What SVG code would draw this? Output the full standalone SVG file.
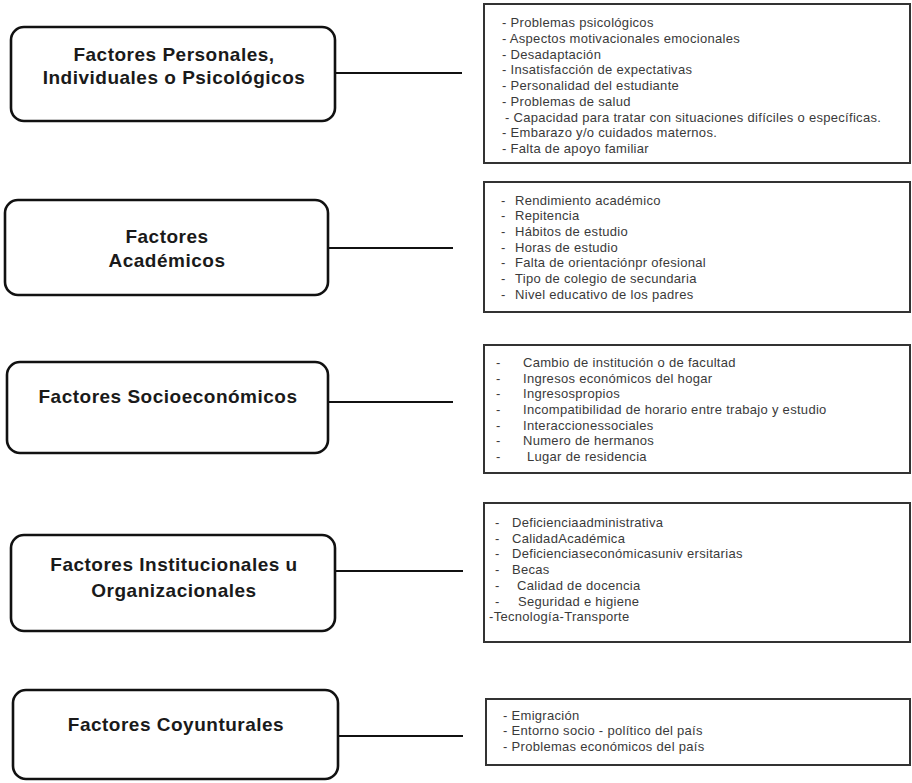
<svg xmlns="http://www.w3.org/2000/svg" width="912" height="783" viewBox="0 0 912 783">
<style>
.nb{fill:#fff;stroke:#111;stroke-width:2.6}
.lb{font-family:"Liberation Sans",Arial,sans-serif;font-weight:bold;font-size:19px;fill:#1a1a1a;text-anchor:middle;letter-spacing:0.5px}
.rb{fill:#fff;stroke:#333;stroke-width:2}
.it{font-family:"Liberation Sans",Arial,sans-serif;font-size:13px;fill:#3a3a3a;letter-spacing:0.3px}
.cn{stroke:#111;stroke-width:2;fill:none}
</style>
<rect width="912" height="783" fill="#fff"/>
<g id="connectors">
<line class="cn" x1="335" y1="73" x2="462" y2="73"/>
<line class="cn" x1="328" y1="248" x2="453" y2="248"/>
<line class="cn" x1="328" y1="402" x2="453" y2="402"/>
<line class="cn" x1="335" y1="571" x2="463" y2="571"/>
<line class="cn" x1="338" y1="736" x2="463" y2="736"/>
</g>
<g id="n-personales">
<rect class="nb" x="11" y="27" width="324" height="94" rx="13"/>
<text class="lb" x="174" y="61">Factores Personales,</text>
<text class="lb" x="174" y="84">Individuales o Psicológicos</text>
</g>
<g id="n-academicos">
<rect class="nb" x="5" y="200" width="323" height="95" rx="13"/>
<text class="lb" x="167" y="243">Factores</text>
<text class="lb" x="167" y="267">Académicos</text>
</g>
<g id="n-socioeconomicos">
<rect class="nb" x="7" y="362" width="321" height="91" rx="13"/>
<text class="lb" x="168" y="403">Factores Socioeconómicos</text>
</g>
<g id="n-institucionales">
<rect class="nb" x="11" y="535" width="324" height="96" rx="13"/>
<text class="lb" x="174" y="571">Factores Institucionales u</text>
<text class="lb" x="174" y="597">Organizacionales</text>
</g>
<g id="n-coyunturales">
<rect class="nb" x="13" y="690" width="325" height="89" rx="13"/>
<text class="lb" x="176" y="731">Factores Coyunturales</text>
</g>
<g id="l-personales">
<rect class="rb" x="484" y="4" width="426" height="159"/>
<g class="it">
<text x="502" y="27">- Problemas psicológicos</text>
<text x="502" y="42.8">- Aspectos motivacionales emocionales</text>
<text x="502" y="58.5">- Desadaptación</text>
<text x="502" y="74.3">- Insatisfacción de expectativas</text>
<text x="502" y="90">- Personalidad del estudiante</text>
<text x="502" y="105.8">- Problemas de salud</text>
<text x="505" y="121.5">- Capacidad para tratar con situaciones difíciles o específicas.</text>
<text x="502" y="137.3">- Embarazo y/o cuidados maternos.</text>
<text x="502" y="153">- Falta de apoyo familiar</text>
</g>
</g>
<g id="l-academicos">
<rect class="rb" x="484" y="182" width="426" height="130"/>
<g class="it">
<text x="501" y="204.5">-</text><text x="515" y="204.5">Rendimiento académico</text>
<text x="501" y="220">-</text><text x="515" y="220">Repitencia</text>
<text x="501" y="236">-</text><text x="515" y="236">Hábitos de estudio</text>
<text x="501" y="251.5">-</text><text x="515" y="251.5">Horas de estudio</text>
<text x="501" y="267">-</text><text x="515" y="267">Falta de orientaciónpr ofesional</text>
<text x="501" y="283">-</text><text x="515" y="283">Tipo de colegio de secundaria</text>
<text x="501" y="298.5">-</text><text x="515" y="298.5">Nivel educativo de los padres</text>
</g>
</g>
<g id="l-socioeconomicos">
<rect class="rb" x="484" y="345" width="426" height="128"/>
<g class="it">
<text x="496" y="367">-</text><text x="523" y="367">Cambio de institución o de facultad</text>
<text x="496" y="382.5">-</text><text x="523" y="382.5">Ingresos económicos del hogar</text>
<text x="496" y="398">-</text><text x="523" y="398">Ingresospropios</text>
<text x="496" y="413.5">-</text><text x="523" y="413.5">Incompatibilidad de horario entre trabajo y estudio</text>
<text x="496" y="429.5">-</text><text x="523" y="429.5">Interaccionessociales</text>
<text x="496" y="445">-</text><text x="523" y="445">Numero de hermanos</text>
<text x="496" y="460.5">-</text><text x="527" y="460.5">Lugar de residencia</text>
</g>
</g>
<g id="l-institucionales">
<rect class="rb" x="484" y="503" width="426" height="139"/>
<g class="it">
<text x="495" y="527">-</text><text x="512" y="527">Deficienciaadministrativa</text>
<text x="495" y="542.7">-</text><text x="512" y="542.7">CalidadAcadémica</text>
<text x="495" y="558.4">-</text><text x="512" y="558.4">Deficienciaseconómicasuniv ersitarias</text>
<text x="495" y="574">-</text><text x="512" y="574">Becas</text>
<text x="495" y="589.8">-</text><text x="517" y="589.8">Calidad de docencia</text>
<text x="495" y="605.5">-</text><text x="518" y="605.5">Seguridad e higiene</text>
<text x="489" y="621.2">-Tecnología-Transporte</text>
</g>
</g>
<g id="l-coyunturales">
<rect class="rb" x="486" y="699" width="424" height="66"/>
<g class="it">
<text x="503" y="719.5">- Emigración</text>
<text x="503" y="735">- Entorno socio - político del país</text>
<text x="503" y="750.5">- Problemas económicos del país</text>
</g>
</g>
</svg>
